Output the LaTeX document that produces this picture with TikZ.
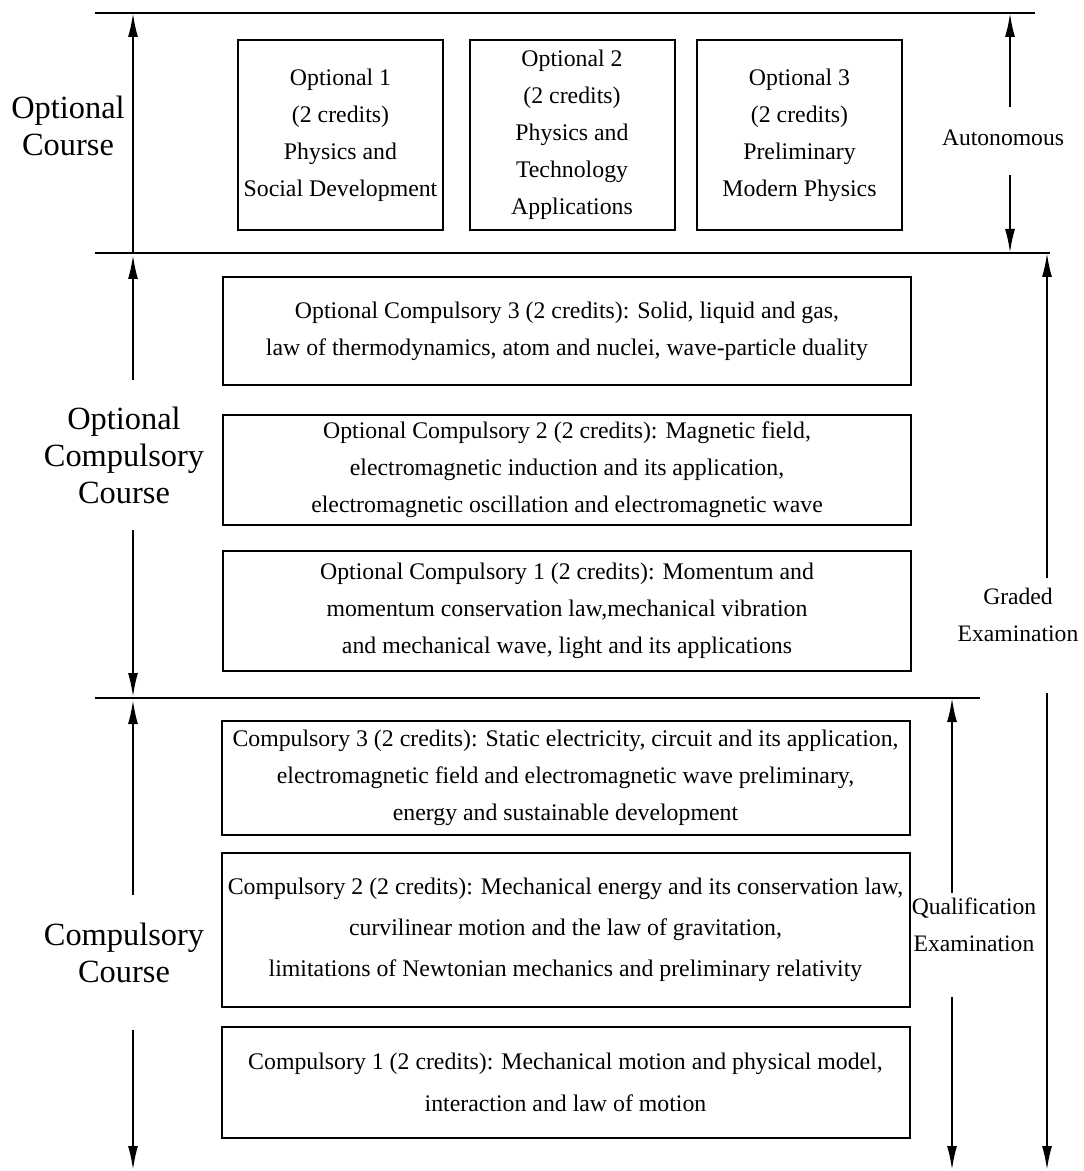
\documentclass[tikz,border=0pt]{standalone}
\usepackage{fontspec}
\setmainfont{Liberation Serif}
\usetikzlibrary{arrows.meta}
\begin{document}
\begin{tikzpicture}[x=0.5pt, y=-0.5pt,
  box/.style={draw, line width=1pt, align=center, inner sep=1pt,
              font=\fontsize{11.9}{18.5}\selectfont},
  topbox/.style={box, minimum width=102.5pt, minimum height=95pt},
  widebox/.style={box, minimum width=344pt},
  rule/.style={line width=1.2pt},
  arr/.style={line width=1pt, -{Latex[length=12pt,width=5pt]}},
  biglab/.style={align=center, font=\fontsize{16.2}{18.5}\selectfont},
  sidelab/.style={align=center, font=\fontsize{11.8}{18.5}\selectfont}]
\useasboundingbox (0,0) rectangle (1083,1171);
% ---- level rules ----
\draw[rule] (95,13) -- (1035,13);
\draw[rule] (95,253) -- (1050,253);
\draw[rule] (95,698) -- (980,698);
% ---- optional course (top row) ----
\node[topbox] (opt1) at (340.5,135) {Optional 1\\(2 credits)\\Physics and\\Social Development};
\node[topbox] (opt2) at (572,135) {Optional 2\\(2 credits)\\Physics and\\Technology\\Applications};
\node[topbox] (opt3) at (799.5,135) {Optional 3\\(2 credits)\\Preliminary\\Modern Physics};
% ---- optional compulsory course ----
\node[widebox, minimum height=54pt] (oc3) at (567,331)
  {Optional Compulsory 3 (2 credits): Solid, liquid and gas,\\
   law of thermodynamics, atom and nuclei, wave-particle duality};
\node[widebox, minimum height=55pt] (oc2) at (567,470)
  {Optional Compulsory 2 (2 credits): Magnetic field,\\
   electromagnetic induction and its application,\\
   electromagnetic oscillation and electromagnetic wave};
\node[widebox, minimum height=60pt] (oc1) at (567,611)
  {Optional Compulsory 1 (2 credits): Momentum and\\
   momentum conservation law,mechanical vibration\\
   and mechanical wave, light and its applications};
% ---- compulsory course ----
\node[widebox, minimum height=57pt] (c3) at (565.5,778)
  {Compulsory 3 (2 credits): Static electricity, circuit and its application,\\
   electromagnetic field and electromagnetic wave preliminary,\\
   energy and sustainable development};
\node[widebox, minimum height=77pt, font=\fontsize{11.9}{20.5}\selectfont] (c2) at (565.5,930)
  {Compulsory 2 (2 credits): Mechanical energy and its conservation law,\\
   curvilinear motion and the law of gravitation,\\
   limitations of Newtonian mechanics and preliminary relativity};
\node[widebox, minimum height=55.5pt, font=\fontsize{11.9}{21}\selectfont] (c1) at (565.5,1082.5)
  {Compulsory 1 (2 credits): Mechanical motion and physical model,\\
   interaction and law of motion};
% ---- left side: course levels ----
\node[biglab] (optlab) at (68,126) {Optional\\Course};
\coordinate (optT) at (133,13);
\coordinate (optB) at (133,253);
\draw[arr, {Latex[length=12pt,width=5pt]}-] (optT) -- (optB);
\node[biglab] (oclab) at (124,455) {Optional\\Compulsory\\Course};
\coordinate (ocU) at (133,380);  \coordinate (ocT) at (133,255);
\coordinate (ocD) at (133,530);  \coordinate (ocB) at (133,697);
\draw[arr] (ocU) -- (ocT);
\draw[arr] (ocD) -- (ocB);
\node[biglab] (clab) at (124,953) {Compulsory\\Course};
\coordinate (cU) at (133,895);   \coordinate (cT) at (133,700);
\coordinate (cD) at (133,1030);  \coordinate (cB) at (133,1170);
\draw[arr] (cU) -- (cT);
\draw[arr] (cD) -- (cB);
% ---- right side: examination ----
\node[sidelab] (autolab) at (1003,138) {Autonomous};
\coordinate (auU) at (1010,107);  \coordinate (auT) at (1010,13);
\coordinate (auD) at (1010,175);  \coordinate (auB) at (1010,253);
\draw[arr] (auU) -- (auT);
\draw[arr] (auD) -- (auB);
\node[sidelab] (gradlab) at (1018,615) {Graded\\Examination};
\coordinate (grU) at (1047,578);  \coordinate (grT) at (1047,253);
\coordinate (grD) at (1047,693);  \coordinate (grB) at (1047,1170);
\draw[arr] (grU) -- (grT);
\draw[arr] (grD) -- (grB);
\node[sidelab] (quallab) at (974,925) {Qualification\\Examination};
\coordinate (quU) at (952,893);   \coordinate (quT) at (952,698);
\coordinate (quD) at (952,997);   \coordinate (quB) at (952,1170);
\draw[arr] (quU) -- (quT);
\draw[arr] (quD) -- (quB);
\end{tikzpicture}
\end{document}
